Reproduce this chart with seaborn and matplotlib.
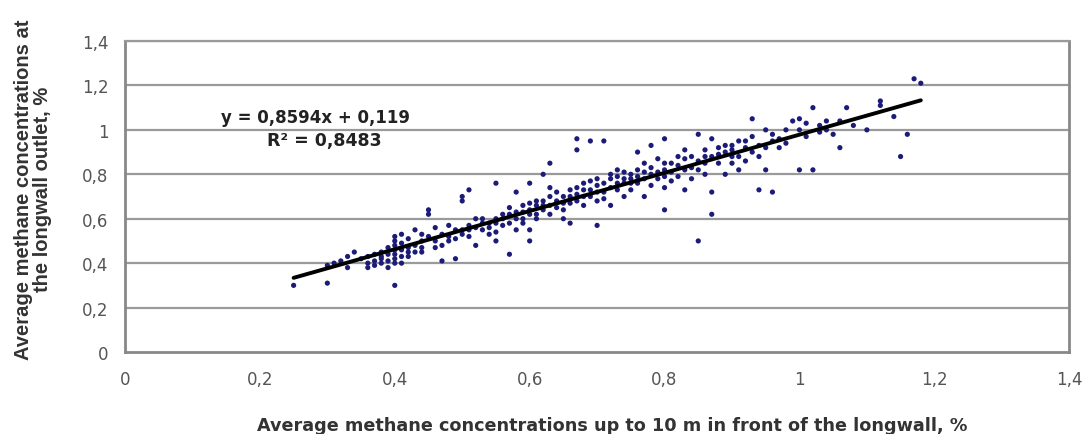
import numpy as np
import pandas as pd
import matplotlib
matplotlib.use("Agg")
import matplotlib.pyplot as plt
import seaborn as sns

# ── Data ───────────────────────────────────────────────────────────────────
front_conc = [
    0.25, 0.30, 0.30, 0.31, 0.32, 0.33, 0.33, 0.34, 0.35,
    0.36, 0.36, 0.37, 0.37, 0.38, 0.38, 0.38, 0.39, 0.39, 0.40, 0.40,
    0.40, 0.40, 0.40, 0.40, 0.41, 0.41, 0.41, 0.42, 0.42, 0.43, 0.43,
    0.44, 0.44, 0.45, 0.45, 0.45, 0.46, 0.46, 0.47, 0.47, 0.48, 0.48,
    0.49, 0.49, 0.50, 0.50, 0.50, 0.51, 0.51, 0.51, 0.52, 0.52, 0.53,
    0.53, 0.54, 0.54, 0.55, 0.55, 0.55, 0.56, 0.56, 0.57, 0.57, 0.58,
    0.58, 0.58, 0.59, 0.59, 0.60, 0.60, 0.60, 0.60, 0.60, 0.61, 0.61,
    0.62, 0.62, 0.62, 0.63, 0.63, 0.63, 0.64, 0.64, 0.65, 0.65, 0.66,
    0.66, 0.67, 0.67, 0.67, 0.67, 0.68, 0.68, 0.69, 0.69, 0.69, 0.70,
    0.70, 0.70, 0.71, 0.71, 0.72, 0.72, 0.72, 0.73, 0.73, 0.74, 0.74,
    0.75, 0.75, 0.76, 0.76, 0.76, 0.77, 0.77, 0.78, 0.78, 0.78, 0.79,
    0.79, 0.80, 0.80, 0.80, 0.80, 0.81, 0.81, 0.82, 0.82, 0.83, 0.83,
    0.84, 0.84, 0.85, 0.85, 0.85, 0.86, 0.86, 0.87, 0.87, 0.87, 0.88,
    0.88, 0.89, 0.89, 0.90, 0.90, 0.91, 0.91, 0.92, 0.92, 0.93, 0.93,
    0.94, 0.94, 0.94, 0.95, 0.95, 0.96, 0.96, 0.97, 0.98, 0.99, 1.00,
    1.00, 1.00, 1.01, 1.02, 1.02, 1.03, 1.04, 1.05, 1.06, 1.07, 1.08,
    1.10, 1.12, 1.12, 1.14, 1.15, 1.16, 1.17, 1.18,
    0.36, 0.37, 0.38, 0.39, 0.39, 0.40, 0.40, 0.41, 0.41, 0.42, 0.42,
    0.43, 0.44, 0.44, 0.46, 0.47, 0.48, 0.49, 0.50, 0.51, 0.52, 0.53,
    0.54, 0.55, 0.55, 0.56, 0.57, 0.57, 0.58, 0.59, 0.59, 0.60, 0.61,
    0.61, 0.62, 0.63, 0.63, 0.64, 0.65, 0.65, 0.66, 0.66, 0.67, 0.68,
    0.68, 0.69, 0.70, 0.70, 0.71, 0.71, 0.72, 0.73, 0.73, 0.74, 0.74,
    0.75, 0.75, 0.76, 0.77, 0.77, 0.78, 0.79, 0.80, 0.80, 0.81, 0.82,
    0.83, 0.83, 0.84, 0.85, 0.86, 0.86, 0.87, 0.88, 0.89, 0.90, 0.90,
    0.91, 0.92, 0.93, 0.95, 0.96, 0.97, 0.98, 1.01, 1.03, 1.04, 1.06,
]
outlet_conc = [
    0.30, 0.31, 0.39, 0.40, 0.41, 0.38, 0.43, 0.45, 0.42,
    0.40, 0.43, 0.41, 0.44, 0.40, 0.45, 0.42, 0.47, 0.41, 0.30, 0.44,
    0.48, 0.52, 0.50, 0.42, 0.46, 0.53, 0.40, 0.45, 0.43, 0.55, 0.48,
    0.50, 0.45, 0.64, 0.62, 0.52, 0.56, 0.47, 0.48, 0.41, 0.57, 0.52,
    0.55, 0.42, 0.68, 0.70, 0.55, 0.73, 0.57, 0.52, 0.60, 0.48, 0.58,
    0.55, 0.58, 0.53, 0.76, 0.60, 0.50, 0.57, 0.62, 0.65, 0.44, 0.60,
    0.55, 0.72, 0.58, 0.63, 0.76, 0.67, 0.62, 0.55, 0.50, 0.66, 0.60,
    0.80, 0.68, 0.64, 0.85, 0.62, 0.70, 0.72, 0.65, 0.67, 0.60, 0.70,
    0.58, 0.96, 0.91, 0.74, 0.68, 0.66, 0.73, 0.95, 0.77, 0.70, 0.78,
    0.68, 0.57, 0.95, 0.72, 0.80, 0.74, 0.66, 0.76, 0.82, 0.81, 0.70,
    0.73, 0.78, 0.82, 0.90, 0.76, 0.70, 0.85, 0.80, 0.75, 0.93, 0.87,
    0.78, 0.82, 0.74, 0.64, 0.96, 0.85, 0.77, 0.88, 0.79, 0.91, 0.73,
    0.83, 0.78, 0.50, 0.86, 0.98, 0.88, 0.80, 0.96, 0.72, 0.62, 0.92,
    0.85, 0.90, 0.80, 0.93, 0.88, 0.95, 0.82, 0.92, 0.86, 1.05, 0.97,
    0.93, 0.73, 0.88, 1.00, 0.82, 0.72, 0.95, 0.92, 1.00, 1.04, 1.05,
    1.00, 0.82, 0.97, 1.10, 0.82, 1.02, 1.04, 0.98, 0.92, 1.10, 1.02,
    1.00, 1.13, 1.11, 1.06, 0.88, 0.98, 1.23, 1.21,
    0.38, 0.39, 0.43, 0.44, 0.38, 0.46, 0.40, 0.43, 0.49, 0.47, 0.51,
    0.45, 0.47, 0.53, 0.50, 0.53, 0.50, 0.51, 0.53, 0.55, 0.56, 0.60,
    0.56, 0.58, 0.54, 0.60, 0.58, 0.62, 0.63, 0.60, 0.66, 0.64, 0.62,
    0.68, 0.66, 0.66, 0.74, 0.68, 0.70, 0.64, 0.67, 0.73, 0.71, 0.70,
    0.76, 0.73, 0.72, 0.75, 0.76, 0.69, 0.78, 0.73, 0.79, 0.76, 0.78,
    0.80, 0.76, 0.79, 0.78, 0.81, 0.83, 0.81, 0.79, 0.85, 0.81, 0.84,
    0.82, 0.87, 0.88, 0.82, 0.85, 0.91, 0.88, 0.89, 0.93, 0.91, 0.85,
    0.88, 0.95, 0.90, 0.92, 0.98, 0.96, 0.94, 1.03, 0.99, 1.00, 1.04,
]

# trendline as printed on the chart
slope, intercept, r2 = 0.8594, 0.119, 0.8483

x_ticks = [0, 0.2, 0.4, 0.6, 0.8, 1.0, 1.2, 1.4]
x_tick_labels = ["0", "0,2", "0,4", "0,6", "0,8", "1", "1,2", "1,4"]
y_ticks = [0, 0.2, 0.4, 0.6, 0.8, 1.0, 1.2, 1.4]
y_tick_labels = ["0", "0,2", "0,4", "0,6", "0,8", "1", "1,2", "1,4"]

df = pd.DataFrame({"front": front_conc, "outlet": outlet_conc})

# ── Style ──────────────────────────────────────────────────────────────────
sns.set_style("white")
plt.rcParams["font.family"] = ["Liberation Sans", "DejaVu Sans"]
wide = ["DejaVu Sans"]  # the source image is stretched sideways

fig = plt.figure(figsize=(10.89, 4.35), dpi=100)
ax = fig.add_axes([0.1148, 0.1885, 0.867, 0.7149])

grid_col = "#9a9a9a"
for yv in y_ticks[1:]:
    ax.axhline(yv, color=grid_col, linewidth=1.6, zorder=0)

sns.scatterplot(data=df, x="front", y="outlet", ax=ax, s=14,
                color="#1c1c78", edgecolor="none", zorder=3, legend=False)

xs = np.array([min(front_conc), max(front_conc)])
ax.plot(xs, slope * xs + intercept, color="black", linewidth=2.8, zorder=4)

eq_txt = f"y = {slope}x + {intercept}".replace(".", ",")
r2_txt = f"R² = {r2}".replace(".", ",")
ax.text(0.282, 1.057, eq_txt, ha="center", va="center", family=wide,
        fontsize=12, fontweight="bold", color="#222222")
ax.text(0.295, 0.955, r2_txt, ha="center", va="center", family=wide,
        fontsize=12.5, fontweight="bold", color="#222222")

ax.set_xlim(0, 1.4)
ax.set_ylim(0, 1.4)
ax.set_xticks(x_ticks)
ax.set_xticklabels(x_tick_labels, family=wide)
ax.set_yticks(y_ticks)
ax.set_yticklabels(y_tick_labels, family=wide)
ax.tick_params(axis="both", direction="out", length=4, width=1.2,
               color="#666666", labelcolor="#555555", labelsize=12, pad=8)
ax.tick_params(axis="x", pad=9)

for side in ["left", "bottom", "right", "top"]:
    ax.spines[side].set_color("#888888")
    ax.spines[side].set_linewidth(2.0)
ax.spines["top"].set_color(grid_col)
ax.spines["top"].set_linewidth(1.6)

ax.set_xlabel("Average methane concentrations up to 10 m in front of the longwall, %",
              family=wide, fontsize=12.7, fontweight="bold", color="#333333")
ax.set_ylabel("Average methane concentrations at\nthe longwall outlet, %",
              fontsize=14.5, fontweight="bold", color="#333333",
              linespacing=1.0)
ax.xaxis.set_label_coords(0.516, -0.205)
ax.yaxis.set_label_coords(-0.077, 0.525)

fig.savefig("out.png", dpi=100)
